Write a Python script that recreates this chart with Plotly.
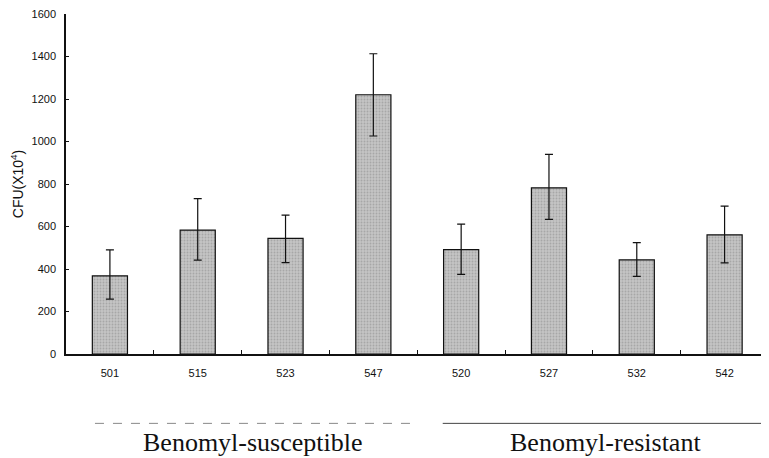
import plotly.graph_objects as go

strains = ["501", "515", "523", "547", "520", "527", "532", "542"]
cfu = [368, 583, 544, 1220, 491, 782, 443, 561]
err_plus = [122, 148, 110, 193, 120, 157, 81, 135]
err_minus = [110, 141, 114, 194, 116, 148, 78, 132]
groups = ["Benomyl-susceptible", "Benomyl-resistant"]
group_sizes = [4, 4]
y_ticks = [0, 200, 400, 600, 800, 1000, 1200, 1400, 1600]

fig = go.Figure()
fig.add_trace(go.Bar(
    x=strains, y=cfu, width=0.40,
    marker=dict(color="#c4c4c4", line=dict(color="#111", width=1.2),
                pattern=dict(shape=".", fgcolor="#8a8a8a", size=3, solidity=0.3)),
    error_y=dict(type="data", array=err_plus, arrayminus=err_minus,
                 color="#111", thickness=1.2, width=4),
    showlegend=False,
))

fig.update_layout(
    width=769, height=458,
    margin=dict(l=58, r=8, t=6, b=112),
    paper_bgcolor="white", plot_bgcolor="white",
    font=dict(family="Liberation Sans Narrow, Liberation Sans, Arial", color="#111", size=11),
)
fig.update_xaxes(
    type="category", showline=True, linecolor="#111", linewidth=1.5,
    ticks="inside", ticklen=4, tickcolor="#111", tickson="boundaries",
    showgrid=False, tickfont=dict(size=11), ticklabelstandoff=8, automargin=False,
)
fig.update_yaxes(
    range=[0, 1600], tickvals=y_ticks, showline=True, linecolor="#111", linewidth=1.5,
    ticks="inside", ticklen=3, tickcolor="#111", showgrid=False, zeroline=False,
    tickfont=dict(size=11), ticklabelstandoff=6, automargin=False,
    ticklabeloverflow="allow",
    title=dict(text="CFU(X10<sup>4</sup>)", font=dict(size=14, family="Liberation Sans, Arial"), standoff=6),
)

# group brackets and labels
start = 0
label_shift = [0.13, 0.14]
line_span = [(-0.17, 3.49), (3.79, 7.5)]
for gi, (name, n) in enumerate(zip(groups, group_sizes)):
    x0, x1 = line_span[gi]
    fig.add_shape(type="line", xref="x", yref="paper", x0=x0, x1=x1, y0=-0.204, y1=-0.204,
                  line=dict(color="#888" if gi == 0 else "#444", width=1,
                            dash="dash" if gi == 0 else "solid"))
    cx = start + (n - 1) / 2 + label_shift[gi]
    fig.add_annotation(x=cx, xref="x", y=-0.26, yref="paper", yanchor="middle",
                       text=name, showarrow=False,
                       font=dict(family="Liberation Serif, DejaVu Serif", size=26, color="#111"))
    start += n

fig.write_html("out.html")
